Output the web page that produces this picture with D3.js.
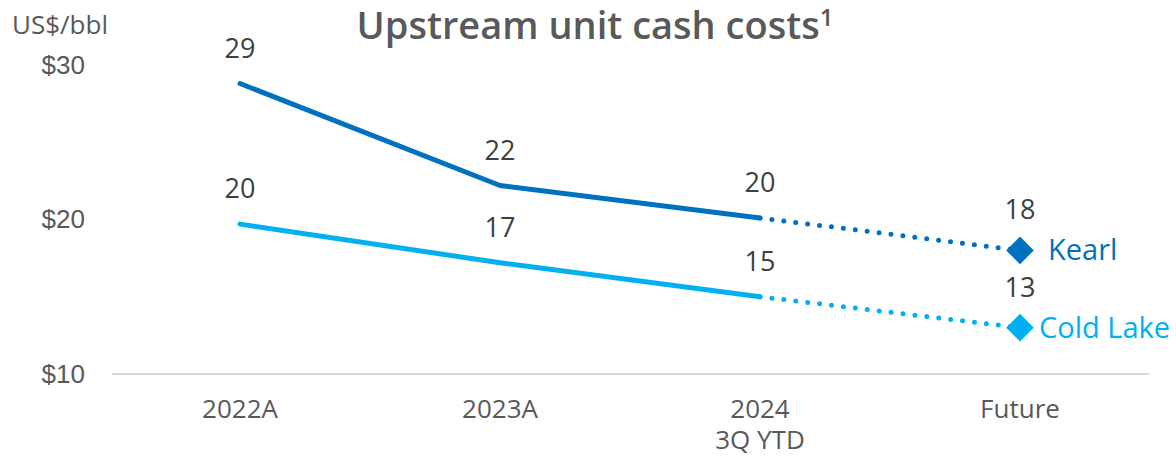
<!DOCTYPE html>
<html lang="en">
<head>
    <meta charset="UTF-8">
    <title>Upstream unit cash costs</title>
    <script src="https://cdn.jsdelivr.net/npm/d3@7"></script>
    <style>
        body { margin: 0; background: white; }
        svg { display: block; font-family: "Open Sans", "Noto Sans", sans-serif; }
    </style>
</head>
<body>
    <div id="chart"></div>
    <script>
        const categories = ["2022A", "2023A", "2024\n3Q YTD", "Future"];
        const kearl = [28.8, 22.2, 20.1, 18.0];
        const coldLake = [19.7, 17.2, 15.0, 13.0];
        const yTicks = [10, 20, 30];

        (() => {
            const width = 1176;
            const height = 456;
            const grey = "#595959";

            const svg = d3.select("#chart").append("svg")
                .attr("width", width)
                .attr("height", height);

            const x = d3.scaleBand()
                .domain(categories)
                .range([110, 1150]);
            const cx = c => x(c) + x.bandwidth() / 2;

            const y = d3.scaleLinear()
                .domain([10, 30])
                .range([374, 65]);

            // baseline at $10
            svg.append("line")
                .attr("x1", 112).attr("x2", 1149)
                .attr("y1", y(10)).attr("y2", y(10))
                .attr("stroke", "#d9d9d9")
                .attr("stroke-width", 2);

            const yAxis = svg.append("g")
                .attr("transform", "translate(110,0)")
                .call(d3.axisLeft(y).tickValues(yTicks).tickSize(0).tickPadding(25).tickFormat(d => "$" + d));
            yAxis.select(".domain").remove();
            yAxis.selectAll("text")
                .attr("font-size", 26)
                .attr("fill", grey)
                .attr("font-family", null);

            // category labels
            const xLab = svg.append("g").selectAll("text")
                .data(categories)
                .join("text")
                .attr("x", d => cx(d))
                .attr("y", 418)
                .attr("text-anchor", "middle")
                .attr("font-size", 26)
                .attr("fill", grey);
            xLab.selectAll("tspan")
                .data(d => d.split("\n"))
                .join("tspan")
                .attr("x", function () { return this.parentNode.getAttribute("x"); })
                .attr("dy", (d, i) => i ? 31 : 0)
                .text(d => d);

            svg.append("text")
                .attr("x", 12).attr("y", 34)
                .attr("font-size", 26)
                .attr("fill", grey)
                .text("US$/bbl");

            const title = svg.append("text")
                .attr("x", 595).attr("y", 39)
                .attr("text-anchor", "middle")
                .attr("font-size", 38)
                .attr("font-weight", 600)
                .attr("fill", grey)
                .text("Upstream unit cash costs");
            title.append("tspan")
                .attr("font-size", 24)
                .attr("dy", -13)
                .text("1");

            const series = [
                { name: "Kearl", values: kearl, color: "#0070c0", labelDx: 28 },
                { name: "Cold Lake", values: coldLake, color: "#00b0f0", labelDx: 19 }
            ];

            const line = d3.line()
                .x(d => cx(d.c))
                .y(d => y(d.v));

            series.forEach(s => {
                const pts = categories.map((c, i) => ({ c, v: s.values[i] }));
                const g = svg.append("g");

                g.append("path")
                    .attr("d", line(pts.slice(0, 3)))
                    .attr("fill", "none")
                    .attr("stroke", s.color)
                    .attr("stroke-width", 5)
                    .attr("stroke-linecap", "round")
                    .attr("stroke-linejoin", "round");

                g.append("path")
                    .attr("d", line(pts.slice(2)))
                    .attr("fill", "none")
                    .attr("stroke", s.color)
                    .attr("stroke-width", 5)
                    .attr("stroke-linecap", "round")
                    .attr("stroke-dasharray", "0 12")
                    .attr("stroke-dashoffset", -12);

                const last = pts[3];
                g.append("path")
                    .attr("d", d3.symbol(d3.symbolSquare, 380)())
                    .attr("transform", `translate(${cx(last.c)},${y(last.v)}) rotate(45)`)
                    .attr("fill", s.color);

                g.selectAll(".val")
                    .data(pts)
                    .join("text")
                    .attr("x", d => cx(d.c))
                    .attr("y", (d, i) => y(d.v) - (i === 3 ? 31 : 26))
                    .attr("text-anchor", "middle")
                    .attr("font-size", 27)
                    .attr("fill", "#404040")
                    .text(d => Math.round(d.v));

                g.append("text")
                    .attr("x", cx(last.c) + s.labelDx)
                    .attr("y", y(last.v) + 10)
                    .attr("font-size", 29)
                    .attr("fill", s.color)
                    .text(s.name);
            });
        })();
    </script>
</body>
</html>
